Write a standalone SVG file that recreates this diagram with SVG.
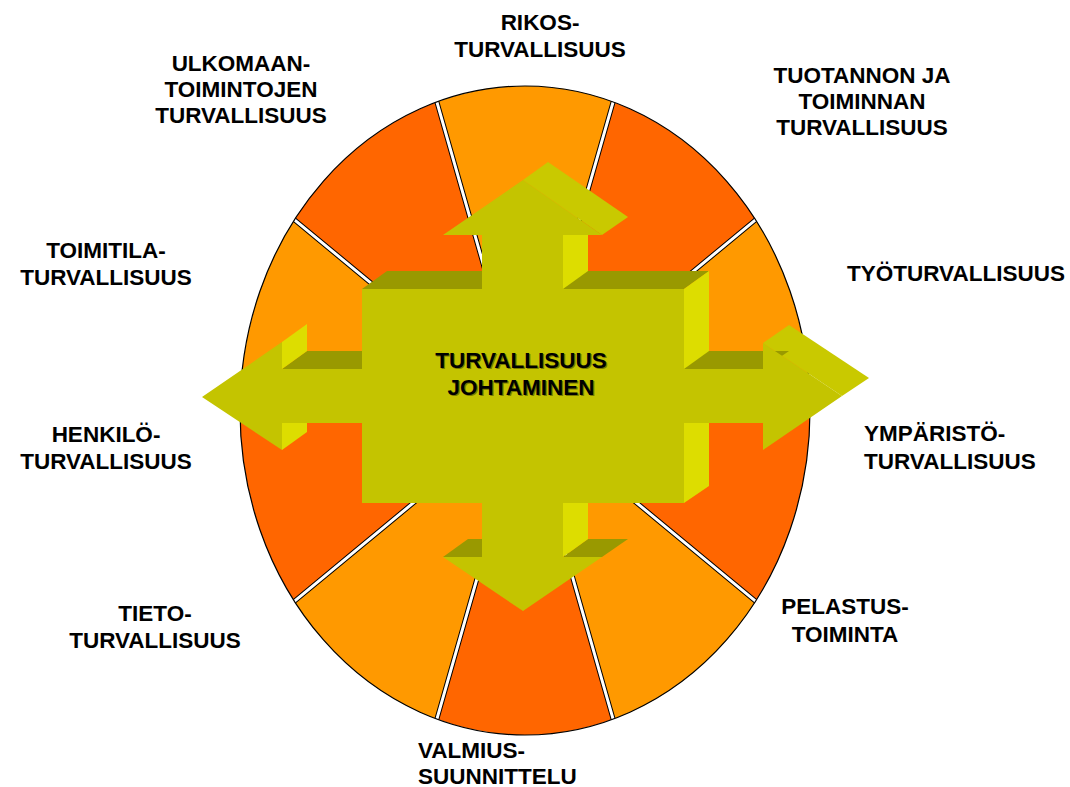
<svg xmlns="http://www.w3.org/2000/svg" width="1070" height="787" viewBox="0 0 1070 787">
<style>
.lbl{font-family:"Liberation Sans",Arial,sans-serif;font-weight:bold;font-size:22.5px;fill:#000}
.mid{text-anchor:middle}
.lt{fill:#FF9900}
.dk{fill:#FF6600}
.sepb{stroke:#000;stroke-width:5;fill:none}
.sepw{stroke:#fff;stroke-width:3;fill:none}
.top{fill:#999900}
.side{fill:#DDDD00}
.slant{fill:#C9C900}
.front{fill:#C4C400}
.shadow{fill:#7a7a00}
</style>
<defs>
<clipPath id="ell"><ellipse cx="525" cy="410.5" rx="285" ry="324.5"/></clipPath>
</defs>
<rect width="1070" height="787" fill="#fff"/>
<g id="wheel">
<path class="lt" d="M525,410.5 L810,410.5 A285,324.5 0 0 0 755.6,219.8 Z"/>
<path class="dk" d="M525,410.5 L755.6,219.8 A285,324.5 0 0 0 613.1,101.9 Z"/>
<path class="lt" d="M525,410.5 L613.1,101.9 A285,324.5 0 0 0 436.9,101.9 Z"/>
<path class="dk" d="M525,410.5 L436.9,101.9 A285,324.5 0 0 0 294.4,219.8 Z"/>
<path class="lt" d="M525,410.5 L294.4,219.8 A285,324.5 0 0 0 240,410.5 Z"/>
<path class="dk" d="M525,410.5 L240,410.5 A285,324.5 0 0 0 294.4,601.2 Z"/>
<path class="lt" d="M525,410.5 L294.4,601.2 A285,324.5 0 0 0 436.9,719.1 Z"/>
<path class="dk" d="M525,410.5 L436.9,719.1 A285,324.5 0 0 0 613.1,719.1 Z"/>
<path class="lt" d="M525,410.5 L613.1,719.1 A285,324.5 0 0 0 755.6,601.2 Z"/>
<path class="dk" d="M525,410.5 L755.6,601.2 A285,324.5 0 0 0 810,410.5 Z"/>
<g clip-path="url(#ell)">
<path class="sepb" d="M525,410.5 L812,410.5 M525,410.5 L757,218.6 M525,410.5 L613.7,99.9 M525,410.5 L436.3,99.9 M525,410.5 L293,218.6 M525,410.5 L238,410.5 M525,410.5 L293,602.4 M525,410.5 L436.3,721.1 M525,410.5 L613.7,721.1 M525,410.5 L757,602.4"/>
<path class="sepw" d="M525,410.5 L812,410.5 M525,410.5 L757,218.6 M525,410.5 L613.7,99.9 M525,410.5 L436.3,99.9 M525,410.5 L293,218.6 M525,410.5 L238,410.5 M525,410.5 L293,602.4 M525,410.5 L436.3,721.1 M525,410.5 L613.7,721.1 M525,410.5 L757,602.4"/>
</g>
<ellipse cx="525" cy="410.5" rx="285" ry="324.5" fill="none" stroke="#000" stroke-width="1.2"/>
</g>
<g id="center">
<polygon class="top" points="362,289 684,289 709,271 387,271"/>
<polygon class="top" points="282,369 362,369 387,351 307,351"/>
<polygon class="top" points="443,557 482,557 507,539 468,539"/>
<polygon class="top" points="563,557 602,557 628,539 588,539"/>
<polygon class="side" points="563,235 588,235 588,271 563,289"/>
<polygon class="side" points="684,289 709,271 709,486 684,503"/>
<polygon class="side" points="282,342 307,324 307,351 282,369"/>
<polygon class="side" points="282,423 307,405 307,432 282,450"/>
<polygon class="side" points="563,503 588,486 588,539 563,557"/>
<polygon class="slant" points="523,180 548,162 628,217 602,235"/>
<polygon class="slant" points="763,343 789,325 869,378 842,396"/>
<polygon class="top" points="684,369 763,369 789,351 709,351"/>
<polygon class="front" points="523,180 602,235 563,235 563,289 684,289 684,369 763,369 763,343 842,396 763,450 763,423 684,423 684,503 563,503 563,557 602,557 523,611 443,557 482,557 482,503 362,503 362,423 282,423 282,450 202,397 282,342 282,369 362,369 362,289 482,289 482,235 443,235"/>
<text class="lbl mid shadow" x="522.2" y="369.2">TURVALLISUUS</text>
<text class="lbl mid shadow" x="522.2" y="396.2">JOHTAMINEN</text>
<text class="lbl mid" x="521" y="368">TURVALLISUUS</text>
<text class="lbl mid" x="521" y="395">JOHTAMINEN</text>
</g>
<g id="rikos"><text class="lbl mid" x="540" y="30">RIKOS-</text><text class="lbl mid" x="540" y="57">TURVALLISUUS</text></g>
<g id="ulkomaan"><text class="lbl mid" x="241" y="71">ULKOMAAN-</text><text class="lbl mid" x="241" y="97">TOIMINTOJEN</text><text class="lbl mid" x="241" y="123">TURVALLISUUS</text></g>
<g id="tuotannon"><text class="lbl mid" x="862" y="83">TUOTANNON JA</text><text class="lbl mid" x="862" y="109">TOIMINNAN</text><text class="lbl mid" x="862" y="135">TURVALLISUUS</text></g>
<g id="toimitila"><text class="lbl mid" x="106" y="258">TOIMITILA-</text><text class="lbl mid" x="106" y="285">TURVALLISUUS</text></g>
<g id="tyo"><text class="lbl mid" x="956" y="281">TYÖTURVALLISUUS</text></g>
<g id="henkilo"><text class="lbl mid" x="106" y="442">HENKILÖ-</text><text class="lbl mid" x="106" y="469">TURVALLISUUS</text></g>
<g id="ymparisto"><text class="lbl" x="864" y="441">YMPÄRISTÖ-</text><text class="lbl" x="864" y="469">TURVALLISUUS</text></g>
<g id="tieto"><text class="lbl mid" x="155" y="621">TIETO-</text><text class="lbl mid" x="155" y="648">TURVALLISUUS</text></g>
<g id="pelastus"><text class="lbl mid" x="845" y="614">PELASTUS-</text><text class="lbl mid" x="845" y="642">TOIMINTA</text></g>
<g id="valmius"><text class="lbl" x="418" y="758">VALMIUS-</text><text class="lbl" x="418" y="784">SUUNNITTELU</text></g>
</svg>
